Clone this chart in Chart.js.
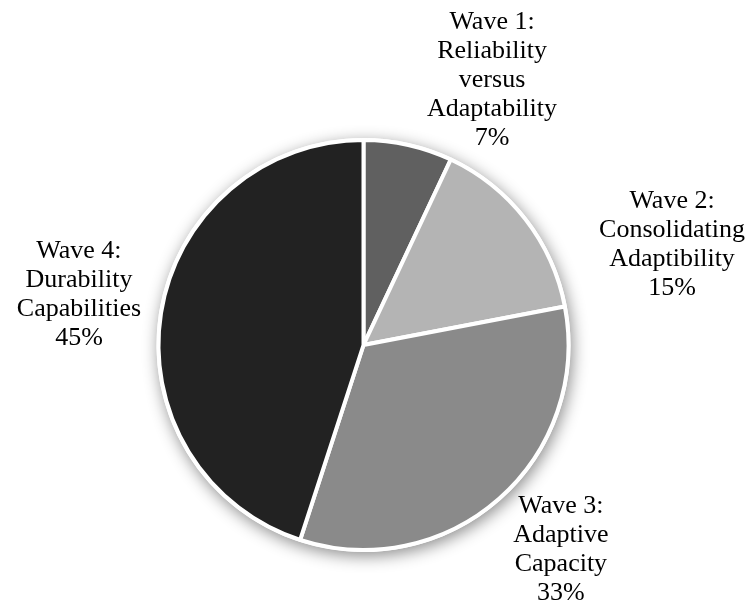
<!DOCTYPE html>
<html>
<head>
<meta charset="utf-8">
<script src="https://cdn.jsdelivr.net/npm/chart.js@4/dist/chart.umd.min.js"></script>
<style>
html,body{margin:0;padding:0;background:#fff;}
#wrap{width:749px;height:609px;position:relative;}
</style>
</head>
<body>
<div id="wrap"><canvas id="c" width="749" height="609"></canvas></div>
<script>
const categories = [
  ["Wave 1:", "Reliability", "versus", "Adaptability"],
  ["Wave 2:", "Consolidating", "Adaptibility"],
  ["Wave 3:", "Adaptive", "Capacity"],
  ["Wave 4:", "Durability", "Capabilities"]
];
const values = [7, 15, 33, 45];
const percentLabels = ["7%", "15%", "33%", "45%"];
const colors = ["#606060", "#b4b4b4", "#8a8a8a", "#222222"];
// label anchor offsets in units of the pie radius
const labelOffsets = [[0.627, -1.290], [1.505, -0.488], [0.963, 1.0], [-1.388, -0.244]];

const shadowPlugin = {
  id: 'shadow',
  beforeDatasetsDraw(chart) {
    const arc = chart.getDatasetMeta(0).data[0];
    if (!arc) return;
    const ctx = chart.ctx;
    ctx.save();
    ctx.shadowColor = 'rgba(0,0,0,0.45)';
    ctx.shadowBlur = 16;
    ctx.shadowOffsetX = 2;
    ctx.shadowOffsetY = 4;
    ctx.beginPath();
    ctx.arc(arc.x, arc.y, arc.outerRadius + 2, 0, Math.PI * 2);
    ctx.fillStyle = '#ffffff';
    ctx.fill();
    ctx.restore();
  }
};

const labelPlugin = {
  id: 'labels',
  afterDatasetsDraw(chart) {
    const meta = chart.getDatasetMeta(0);
    const ctx = chart.ctx;
    const lh = 29;
    ctx.save();
    ctx.font = '26px "Liberation Serif", "Times New Roman", serif';
    ctx.fillStyle = '#000';
    ctx.textAlign = 'center';
    ctx.textBaseline = 'middle';
    meta.data.forEach((arc, i) => {
      const r = arc.outerRadius;
      const cx = arc.x + labelOffsets[i][0] * r;
      const cy = arc.y + labelOffsets[i][1] * r;
      const lines = categories[i].concat([percentLabels[i]]);
      const y0 = cy - (lines.length - 1) * lh / 2;
      lines.forEach((t, k) => ctx.fillText(t, cx, y0 + k * lh));
    });
    ctx.restore();
  }
};

new Chart(document.getElementById('c'), {
  type: 'pie',
  data: {
    labels: categories.map(c => c.join(' ')),
    datasets: [{
      data: values,
      backgroundColor: colors,
      borderColor: '#ffffff',
      borderWidth: 4
    }]
  },
  options: {
    responsive: false,
    animation: false,
    radius: 205,
    layout: { padding: { left: 100, right: 122, top: 100, bottom: 19 } },
    plugins: {
      legend: { display: false },
      tooltip: { enabled: false }
    }
  },
  plugins: [shadowPlugin, labelPlugin]
});
</script>
</body>
</html>
